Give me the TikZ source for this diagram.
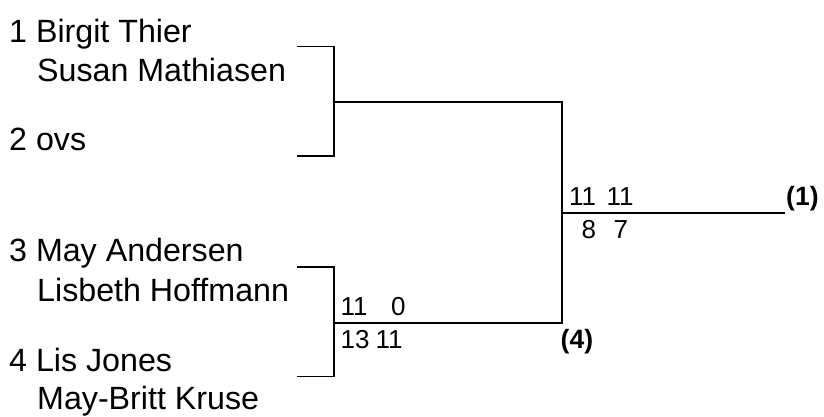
\documentclass[tikz,border=0pt]{standalone}
\usepackage{fontspec}
\setmainfont{Liberation Sans}
\usetikzlibrary{positioning}

\begin{document}
\begin{tikzpicture}[
    x=1pt, y=-1pt,
    player/.style={anchor=base west, inner sep=0pt, font=\fontsize{32.2}{36}\selectfont},
    score/.style={anchor=base west, inner sep=0pt, font=\fontsize{26}{28}\selectfont},
    seed/.style={anchor=base west, inner sep=0pt, font=\fontsize{26.5}{28}\selectfont\bfseries},
    bracket/.style={draw, line width=1.6pt},
]
    \useasboundingbox (0,0) rectangle (824,416);

    % === PLAYERS ===
    \node[player] (p1a) at (9, 42) {1 Birgit Thier};
    \node[player] (p1b) at (37, 81) {Susan Mathiasen};
    \node[player] (p2) at (9, 150) {2 ovs};
    \node[player] (p3a) at (9, 261) {3 May Andersen};
    \node[player] (p3b) at (37, 301) {Lisbeth Hoffmann};
    \node[player] (p4a) at (9, 371) {4 Lis Jones};
    \node[player] (p4b) at (37, 409) {May-Britt Kruse};

    % === BRACKET POINTS ===
    \coordinate (e1) at (297, 46.5);
    \coordinate (e2) at (297, 156);
    \coordinate (e3) at (297, 267);
    \coordinate (e4) at (297, 376.5);
    \coordinate (semi1) at (334, 102);
    \coordinate (semi2) at (334, 322.7);
    \coordinate (final) at (562, 212.7);
    \coordinate (champ) at (785, 212.7);

    % === LINES ===
    \draw[bracket] (e1) -| (semi1) |- (e2);
    \draw[bracket] (e3) -| (semi2) |- (e4);
    \draw[bracket] (semi1) -| (final) |- (semi2);
    \draw[bracket] (final) -- (champ);

    % === SCORES: semi ===
    \node[score] (s2a) at (340.5, 315) {11};
    \node[score] (s2b) at (391, 315) {0};
    \node[score] (s2c) at (340.5, 348) {13};
    \node[score] (s2d) at (375.5, 348) {11};
    \node[seed] (w2) at (560.5, 348) {(4)};

    % === SCORES: final ===
    \node[score] (fa) at (569, 205) {11};
    \node[score] (fb) at (606.5, 205) {11};
    \node[score] (fc) at (581.5, 238) {8};
    \node[score] (fd) at (613.5, 238) {7};
    \node[seed] (w1) at (786, 205) {(1)};
\end{tikzpicture}
\end{document}
